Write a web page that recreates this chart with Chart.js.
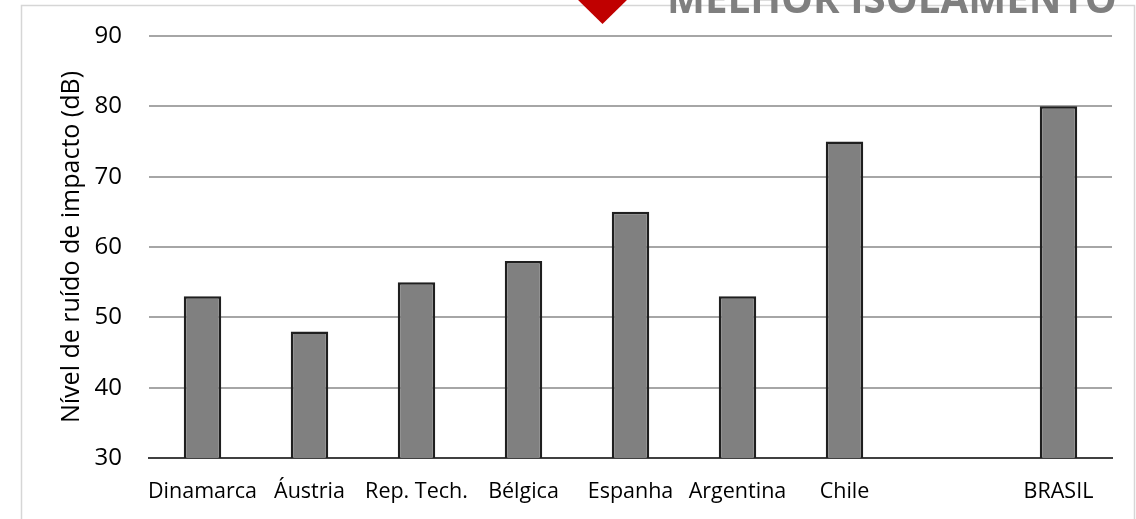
<!DOCTYPE html>
<html>
<head>
<meta charset="utf-8">
<script src="https://cdn.jsdelivr.net/npm/chart.js@4.4.1/dist/chart.umd.min.js"></script>
<style>
  html, body { margin: 0; padding: 0; background: #fff; }
  #wrap { width: 1136px; height: 519px; position: relative; }
</style>
</head>
<body>
<div id="wrap"><canvas id="ruidoChart"></canvas></div>
<script>
// países (a 8ª posição fica vazia, separando o Brasil)
var paises = ['Dinamarca', 'Áustria', 'Rep. Tech.', 'Bélgica', 'Espanha', 'Argentina', 'Chile', '', 'BRASIL'];
var nivelRuido = [53, 48, 55, 58, 65, 53, 75, null, 80];
var eixoY = { min: 30, max: 90, passo: 10 };

var fonte = "'Open Sans', 'DejaVu Sans', sans-serif";

// moldura clara, seta vermelha e o aviso no topo
var extras = {
    id: 'extras',
    afterDraw: function (chart) {
        var c = chart.ctx;
        c.save();
        c.strokeStyle = '#d6d6d6';
        c.lineWidth = 1.5;
        c.beginPath();
        c.moveTo(21.5, 519);
        c.lineTo(21.5, 5.5);
        c.lineTo(1134.5, 5.5);
        c.lineTo(1134.5, 519);
        c.stroke();

        c.fillStyle = '#c00000';
        c.beginPath();
        c.moveTo(576, -2);
        c.lineTo(629, -2);
        c.lineTo(602.5, 24);
        c.closePath();
        c.fill();

        var txt = 'MELHOR ISOLAMENTO';
        c.font = 'bold 40px ' + fonte;
        var w = c.measureText(txt).width;
        var size = 40 * 450 / w;
        c.font = 'bold ' + size + 'px ' + fonte;
        c.fillStyle = '#7f7f7f';
        c.textBaseline = 'alphabetic';
        c.textAlign = 'left';
        c.fillText(txt, 667, 13);
        c.restore();
    }
};

var ctx = document.getElementById('ruidoChart').getContext('2d');
var ruidoChart = new Chart(ctx, {
    type: 'bar',
    data: {
        labels: paises,
        datasets: [{
            data: nivelRuido,
            backgroundColor: '#808080',
            borderColor: '#1f1f1f',
            borderWidth: 2.5,
            barPercentage: 1,
            categoryPercentage: 0.35
        }]
    },
    options: {
        responsive: true,
        maintainAspectRatio: false,
        animation: false,
        layout: { padding: { top: 36, right: 24, left: 0, bottom: 0 } },
        plugins: {
            legend: { display: false },
            title: { display: false },
            tooltip: { enabled: false }
        },
        scales: {
            x: {
                grid: { display: false, drawTicks: false },
                border: { color: '#404040', width: 2 },
                ticks: {
                    color: '#000',
                    font: { family: fonte, size: 21.5 },
                    padding: 21,
                    maxRotation: 0,
                    autoSkip: false
                },
                afterFit: function (scale) { scale.height = 61; }
            },
            y: {
                min: eixoY.min,
                max: eixoY.max,
                grid: { color: '#a6a6a6', lineWidth: 2, drawTicks: false },
                border: { display: false },
                ticks: {
                    stepSize: eixoY.passo,
                    color: '#000',
                    font: { family: fonte, size: 24 },
                    padding: 27
                },
                title: {
                    display: true,
                    text: 'Nível de ruído de impacto (dB)',
                    color: '#000',
                    font: { family: fonte, size: 25 },
                    padding: { top: 57, bottom: 0 }
                },
                afterFit: function (scale) {
                    scale.width = 149;
                    // sem folga extra acima/abaixo: a área do gráfico segue só o padding do layout
                    scale.paddingTop = 0;
                    scale.paddingBottom = 0;
                }
            }
        }
    },
    plugins: [extras]
});
</script>
</body>
</html>
